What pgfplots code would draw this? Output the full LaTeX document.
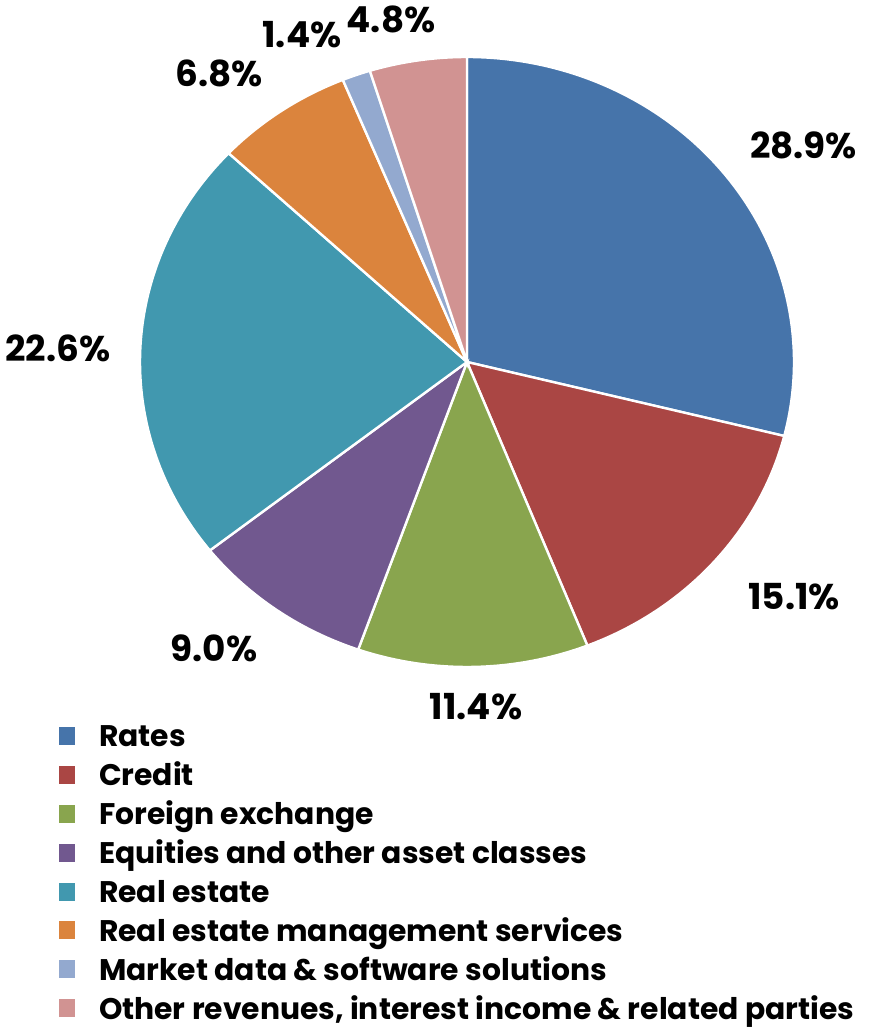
\documentclass[border=0pt]{standalone}
\usepackage{pgfplots}
\pgfplotsset{compat=1.18}
\usepackage{fontspec}
\setmainfont{Poppins}
\definecolor{cRates}{HTML}{4674AA}
\definecolor{cCredit}{HTML}{AA4644}
\definecolor{cFX}{HTML}{89A54E}
\definecolor{cEq}{HTML}{71588F}
\definecolor{cRE}{HTML}{4198AF}
\definecolor{cREMS}{HTML}{DB843D}
\definecolor{cMD}{HTML}{93A9CF}
\definecolor{cOther}{HTML}{D19392}
% shares (%)
\def\vA{28.9}\def\vB{15.1}\def\vC{11.4}\def\vD{9.0}
\def\vE{22.6}\def\vF{6.8}\def\vG{1.4}\def\vH{4.8}
\begin{document}
\begin{tikzpicture}
\pgfmathsetmacro\aA{90}
\pgfmathsetmacro\aB{\aA-3.6*\vA}
\pgfmathsetmacro\aC{\aB-3.6*\vB}
\pgfmathsetmacro\aD{\aC-3.6*\vC}
\pgfmathsetmacro\aE{\aD-3.6*\vD}
\pgfmathsetmacro\aF{\aE-3.6*\vE}
\pgfmathsetmacro\aG{\aF-3.6*\vF}
\pgfmathsetmacro\aH{\aG-3.6*\vG}
\pgfmathsetmacro\aI{\aH-3.6*\vH}
\def\cx{467}\def\cy{665}\def\rx{327}\def\ry{305}
\begin{axis}[
  scale only axis, width=439.5pt, height=513.5pt,
  xmin=0, xmax=879, ymin=0, ymax=1027,
  hide axis, clip=false,
  legend cell align=left,
  legend image code/.code={\fill[#1, draw=none] (0pt,-1.25pt) rectangle (8pt,7.75pt);},
  legend style={at={(axis cs:59,304)}, anchor=north west, draw=none, fill=none,
    inner sep=0pt, outer sep=0pt, column sep=12pt, row sep=0pt,
    nodes={inner sep=0pt, text height=12pt, text depth=7.45pt,
      font=\fontsize{14.9}{16}\selectfont\bfseries}},
  every axis plot/.append style={draw=white, line width=1.2pt, variable=\t},
]
\addplot[fill=cRates, domain=\aB:\aA, samples=120]
  ({\cx+\rx*cos(\t)}, {\cy+\ry*sin(\t)}) -- (axis cs:\cx,\cy) -- cycle;
\addplot[fill=cCredit, domain=\aC:\aB, samples=80]
  ({\cx+\rx*cos(\t)}, {\cy+\ry*sin(\t)}) -- (axis cs:\cx,\cy) -- cycle;
\addplot[fill=cFX, domain=\aD:\aC, samples=60]
  ({\cx+\rx*cos(\t)}, {\cy+\ry*sin(\t)}) -- (axis cs:\cx,\cy) -- cycle;
\addplot[fill=cEq, domain=\aE:\aD, samples=50]
  ({\cx+\rx*cos(\t)}, {\cy+\ry*sin(\t)}) -- (axis cs:\cx,\cy) -- cycle;
\addplot[fill=cRE, domain=\aF:\aE, samples=100]
  ({\cx+\rx*cos(\t)}, {\cy+\ry*sin(\t)}) -- (axis cs:\cx,\cy) -- cycle;
\addplot[fill=cREMS, domain=\aG:\aF, samples=40]
  ({\cx+\rx*cos(\t)}, {\cy+\ry*sin(\t)}) -- (axis cs:\cx,\cy) -- cycle;
\addplot[fill=cMD, domain=\aH:\aG, samples=20]
  ({\cx+\rx*cos(\t)}, {\cy+\ry*sin(\t)}) -- (axis cs:\cx,\cy) -- cycle;
\addplot[fill=cOther, domain=\aI:\aH, samples=30]
  ({\cx+\rx*cos(\t)}, {\cy+\ry*sin(\t)}) -- (axis cs:\cx,\cy) -- cycle;
\legend{Rates, Credit, Foreign exchange, Equities and other asset classes, Real estate,
  Real estate management services, Market data \& software solutions,
  {Other revenues, interest income \& related parties}}
\begin{scope}[every node/.style={font=\fontsize{17.9}{20}\selectfont\bfseries, inner sep=0pt, anchor=base}]
\node at (axis cs:803.5,868) {\vA\%};
\node at (axis cs:794,417) {\vB\%};
\node at (axis cs:476,307) {\vC\%};
\node at (axis cs:214,365) {\vD\%};
\node at (axis cs:58,665) {\vE\%};
\node at (axis cs:219.5,940) {\vF\%};
\node at (axis cs:302,979) {\vG\%};
\node at (axis cs:391,994) {\vH\%};
\end{scope}
\end{axis}
\pgfresetboundingbox
\path (current axis.south west) rectangle (current axis.north east);
\end{tikzpicture}
\end{document}
